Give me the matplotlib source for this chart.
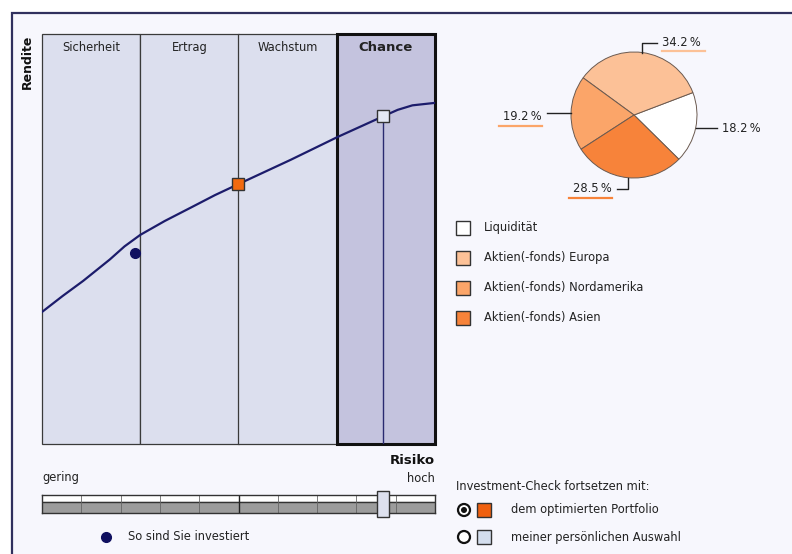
import matplotlib
matplotlib.use("Agg")
import matplotlib.pyplot as plt
from matplotlib.patches import Rectangle, Circle
import numpy as np

W, H = 792, 554

# Risiko/Rendite-Kurve: x läuft 0..4 über die vier Bereiche, y ist Rendite 0..100
bands = ["Sicherheit", "Ertrag", "Wachstum", "Chance"]
active_band = 3
curve_x = [0.0, 0.21, 0.42, 0.69, 0.84, 1.0, 1.25, 1.51, 1.76, 2.0, 2.53, 3.01, 3.47, 3.62, 3.77, 4.0]
curve_y = [32.2, 36.1, 39.8, 45.0, 48.2, 51.0, 54.4, 57.6, 60.7, 63.4, 69.3, 74.9, 79.9, 81.5, 82.6, 83.2]
current = (0.95, 46.6)     # so sind Sie investiert
optimized = (2.0, 63.4)    # optimiertes Portfolio
selected = (3.47, 79.9)    # persönliche Auswahl

# Aufteilung des Portfolios
pie_labels = ["Liquidität", "Aktien(-fonds) Europa", "Aktien(-fonds) Nordamerika", "Aktien(-fonds) Asien"]
pie_values = [18.2, 34.2, 19.2, 28.5]
pie_colors = ["#ffffff", "#fcc197", "#fba569", "#f7833a"]

TXT = "#222222"
NAVY = "#1c1c6b"
FS = 8.3
plt.rcParams["font.family"] = ["DejaVu Sans"]

fig = plt.figure(figsize=(W / 100, H / 100), dpi=100, facecolor="white")


def px_axes(x0, y0, x1, y1, **kw):
    return fig.add_axes([x0 / W, 1 - y1 / H, (x1 - x0) / W, (y1 - y0) / H], **kw)


# Hintergrund mit Rahmen oben und links
bg = px_axes(0, 0, W, H)
bg.set_xlim(0, W)
bg.set_ylim(H, 0)
bg.axis("off")
bg.add_patch(Rectangle((12, 13), W, H, facecolor="#f7f7fd", edgecolor="none"))
bg.plot([12, 12, W], [H, 13, 13], color="#30305e", lw=1.6, solid_joinstyle="miter")

# Hauptdiagramm
ax = px_axes(42, 34, 435, 444)
ax.set_xlim(0, 4)
ax.set_ylim(0, 100)
for i, name in enumerate(bands):
    active = i == active_band
    ax.add_patch(Rectangle((i, 0), 1, 100,
                           facecolor="#c4c3de" if active else "#dcdfee",
                           edgecolor="#111111" if active else "#3a3a3a",
                           lw=2.2 if active else 0.9,
                           zorder=1.5 if active else 1, clip_on=False))
    ax.text(i + 0.5, 96.8, name, ha="center", va="center", color=TXT,
            fontsize=9.5 if active else FS,
            fontweight="bold" if active else "normal", zorder=5)
ax.plot([selected[0], selected[0]], [0, selected[1]], color="#2a2a70", lw=1, zorder=2)
ax.plot(curve_x, curve_y, color=NAVY, lw=1.6, zorder=3)
ax.plot(*current, "o", ms=7, color="#101060", zorder=4)
ax.plot(*optimized, "s", ms=9, mfc="#f26a10", mec="#333333", mew=1, zorder=4)
ax.plot(*selected, "s", ms=9, mfc="#e4e8f4", mec="#333333", mew=1, zorder=4)
ax.set_xticks([])
ax.set_yticks([])
for s in ax.spines.values():
    s.set_visible(False)

bg.text(27, 62, "Rendite", rotation=90, ha="center", va="center",
        fontsize=9, fontweight="bold", color="#111111")
bg.text(435, 461, "Risiko", ha="right", va="center", fontsize=9.5,
        fontweight="bold", color="#111111")
bg.text(42, 478, "gering", ha="left", va="center", fontsize=FS, color=TXT)
bg.text(435, 478, "hoch", ha="right", va="center", fontsize=FS, color=TXT)

# Schieberegler für das Risiko
sl = px_axes(42, 495, 435, 513)
sl.set_xlim(0, 10)
sl.set_ylim(0, 1)
sl.axhspan(0.62, 1, color="white")
sl.axhspan(0, 0.62, color="#9c9c9c")
sl.axhline(0.62, color="#333333", lw=1)
for k in range(1, 10):
    sl.axvline(k, color="#222222" if k == 5 else "#666666", lw=1 if k == 5 else 0.6)
slider_pos = selected[0] / len(bands) * 10
sl.add_patch(Rectangle((slider_pos - 0.15, -0.2), 0.3, 1.4, facecolor="#dde0ee",
                       edgecolor="#333333", lw=1, clip_on=False, zorder=5))
sl.set_xticks([])
sl.set_yticks([])
for s in sl.spines.values():
    s.set_color("#333333")
    s.set_linewidth(1)

bg.plot(106, 537, "o", ms=7, color="#101060")
bg.text(128, 537, "So sind Sie investiert", ha="left", va="center", fontsize=FS, color=TXT)

# Kreisdiagramm
pa = px_axes(571, 52, 697, 178)
wedges, _ = pa.pie(pie_values, colors=pie_colors, startangle=-44.6, counterclock=True,
                   radius=1, wedgeprops=dict(edgecolor="#6b5a50", linewidth=0.7))
pa.set_xlim(-1, 1)
pa.set_ylim(-1, 1)

label_pos = [(1.40, -0.21, "left"), (0.45, 1.15, "left"),
             (-1.46, -0.03, "right"), (-0.35, -1.17, "right")]
for w, v, col, (tx, ty, ha) in zip(wedges, pie_values, pie_colors, label_pos):
    theta = np.deg2rad((w.theta1 + w.theta2) / 2)
    ex, ey = np.cos(theta), np.sin(theta)
    near = tx - 0.08 if ha == "left" else tx + 0.08
    if abs(ey) > 0.7:
        lx, ly = [ex, ex, near], [ey, ty, ty]
    else:
        lx, ly = [ex, near], [ey, ey]
    pa.plot(lx, ly, color="#222222", lw=1, clip_on=False)
    pa.text(tx, ty, f"{v:.1f}\u2009%", ha=ha, va="center", fontsize=FS, color=TXT)
    if col != "#ffffff":
        ux = [tx, tx + 0.68] if ha == "left" else [tx - 0.68, tx]
        pa.plot(ux, [ty - 0.14] * 2, color=col, lw=1.6, clip_on=False)

# Legende zum Kreisdiagramm
for i, (lab, col) in enumerate(zip(pie_labels, pie_colors)):
    y = 228 + 30 * i
    bg.add_patch(Rectangle((456, y - 7), 14, 14, facecolor=col, edgecolor="#333333", lw=1))
    bg.text(484, y, lab, ha="left", va="center", fontsize=FS, color=TXT)

# Auswahl zum Fortsetzen
bg.text(456, 486, "Investment-Check fortsetzen mit:", ha="left", va="center",
        fontsize=FS, color=TXT)
options = [("dem optimierten Portfolio", "#f0600f", True),
           ("meiner persönlichen Auswahl", "#d4deee", False)]
for i, (lab, col, checked) in enumerate(options):
    y = 510 + 27 * i
    bg.add_patch(Circle((464, y), 6, facecolor="white", edgecolor="#111111", lw=1.6))
    if checked:
        bg.add_patch(Circle((464, y), 3, facecolor="#111111", edgecolor="none"))
    bg.add_patch(Rectangle((477, y - 7), 14, 14, facecolor=col, edgecolor="#333333", lw=1))
    bg.text(511, y, lab, ha="left", va="center", fontsize=FS, color=TXT)

fig.savefig("out.png", dpi=100, facecolor=fig.get_facecolor())
